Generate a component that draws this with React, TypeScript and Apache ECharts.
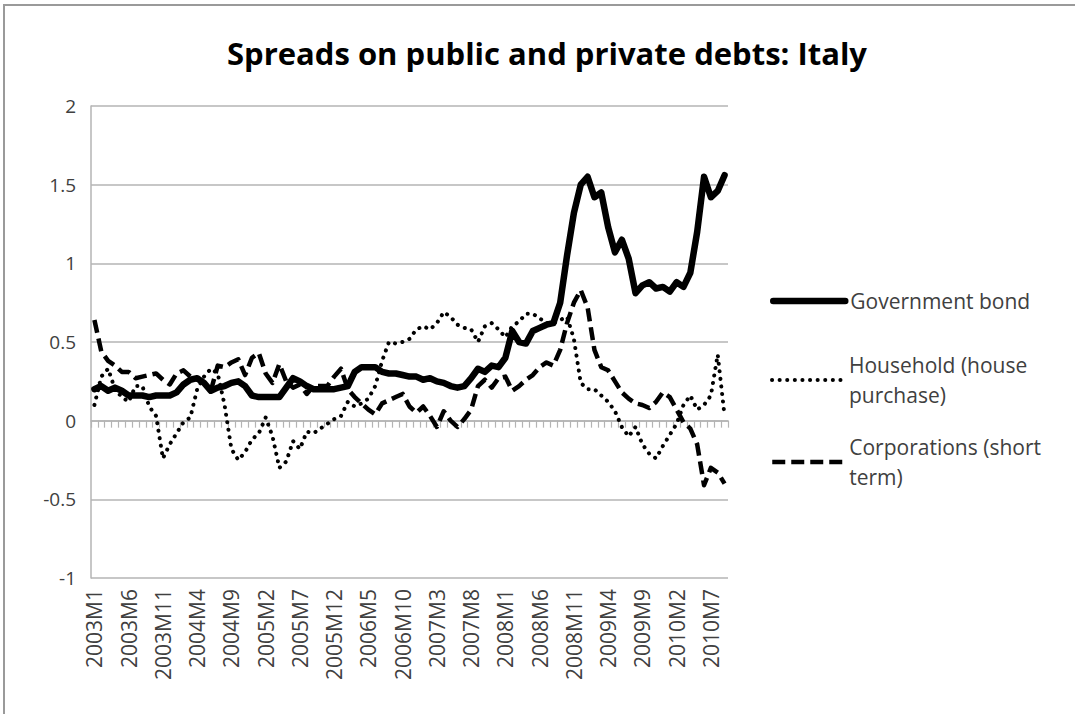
import React, { useEffect, useRef } from "react";
import * as echarts from "echarts";

const categories = [
  "2003M1","2003M2","2003M3","2003M4","2003M5","2003M6","2003M7","2003M8","2003M9","2003M10","2003M11","2003M12",
  "2004M1","2004M2","2004M3","2004M4","2004M5","2004M6","2004M7","2004M8","2004M9","2004M10","2004M11","2004M12",
  "2005M1","2005M2","2005M3","2005M4","2005M5","2005M6","2005M7","2005M8","2005M9","2005M10","2005M11","2005M12",
  "2006M1","2006M2","2006M3","2006M4","2006M5","2006M6","2006M7","2006M8","2006M9","2006M10","2006M11","2006M12",
  "2007M1","2007M2","2007M3","2007M4","2007M5","2007M6","2007M7","2007M8","2007M9","2007M10","2007M11","2007M12",
  "2008M1","2008M2","2008M3","2008M4","2008M5","2008M6","2008M7","2008M8","2008M9","2008M10","2008M11","2008M12",
  "2009M1","2009M2","2009M3","2009M4","2009M5","2009M6","2009M7","2009M8","2009M9","2009M10","2009M11","2009M12",
  "2010M1","2010M2","2010M3","2010M4","2010M5","2010M6","2010M7","2010M8","2010M9"
];

const government = [
  0.20,0.22,0.19,0.21,0.19,0.16,0.16,0.16,0.15,0.16,0.16,0.16,
  0.18,0.23,0.26,0.27,0.24,0.19,0.21,0.22,0.24,0.25,0.22,0.16,
  0.15,0.15,0.15,0.15,0.21,0.27,0.25,0.22,0.20,0.20,0.20,0.20,
  0.21,0.22,0.31,0.34,0.34,0.34,0.31,0.30,0.30,0.29,0.28,0.28,
  0.26,0.27,0.25,0.24,0.22,0.21,0.22,0.27,0.33,0.31,0.35,0.34,
  0.40,0.57,0.50,0.49,0.57,0.59,0.61,0.62,0.75,1.05,1.32,1.50,
  1.55,1.42,1.45,1.23,1.07,1.15,1.03,0.81,0.86,0.88,0.84,0.85,
  0.82,0.88,0.85,0.94,1.20,1.55,1.42,1.46,1.56
];

const household = [
  0.10,0.28,0.33,0.20,0.15,0.12,0.22,0.22,0.09,0.03,-0.24,-0.15,
  -0.08,-0.01,0.02,0.20,0.28,0.33,0.30,0.10,-0.18,-0.25,-0.20,-0.12,
  -0.08,0.02,-0.10,-0.30,-0.26,-0.13,-0.18,-0.07,-0.08,-0.05,-0.02,0.01,
  0.03,0.12,0.09,0.11,0.14,0.22,0.38,0.50,0.49,0.50,0.52,0.58,
  0.60,0.58,0.62,0.69,0.66,0.61,0.59,0.58,0.50,0.60,0.62,0.58,
  0.53,0.60,0.63,0.68,0.68,0.65,0.62,0.62,0.64,0.66,0.52,0.24,
  0.20,0.20,0.16,0.12,0.06,-0.04,-0.10,-0.04,-0.15,-0.21,-0.24,-0.16,
  -0.09,-0.02,0.10,0.16,0.07,0.10,0.16,0.42,0.03
];

const corporations = [
  0.64,0.44,0.38,0.35,0.31,0.31,0.27,0.28,0.29,0.30,0.26,0.23,
  0.30,0.32,0.28,0.26,0.24,0.19,0.35,0.34,0.37,0.39,0.29,0.40,
  0.43,0.30,0.24,0.36,0.25,0.21,0.23,0.17,0.22,0.22,0.22,0.28,
  0.33,0.20,0.15,0.11,0.07,0.04,0.11,0.13,0.15,0.17,0.09,0.05,
  0.09,0.03,-0.04,0.06,0.00,-0.04,0.01,0.07,0.22,0.26,0.21,0.27,
  0.28,0.19,0.22,0.26,0.29,0.34,0.37,0.35,0.45,0.62,0.75,0.83,
  0.72,0.45,0.34,0.32,0.25,0.18,0.14,0.11,0.10,0.08,0.12,0.18,
  0.15,0.07,-0.01,-0.05,-0.15,-0.41,-0.30,-0.33,-0.40
];

const seriesNames = ["Government bond", "Household (house purchase)", "Corporations (short term)"];
const legendLabels: Record<string, string> = {
  "Government bond": "Government bond",
  "Household (house purchase)": "Household (house\npurchase)",
  "Corporations (short term)": "Corporations (short\nterm)",
};

const FONT = "'Open Sans', 'Noto Sans', sans-serif";
const TEXT = "#404040";
const GRID = "#b4b4b4";

const govStyle = { color: "#000000", width: 6.5, join: "round", cap: "round" };
const houseStyle = { color: "#000000", width: 4, type: [0.1, 7.5], cap: "round", join: "round" };
const corpStyle = { color: "#000000", width: 4.5, type: [13, 6], join: "round", cap: "butt" };

export default function App() {
  const ref = useRef<HTMLDivElement>(null);
  useEffect(() => {
    if (!ref.current) return;
    const chart = echarts.init(ref.current, null, { renderer: "svg" });
    const legendText = {
      color: TEXT,
      fontFamily: FONT,
      fontSize: 21,
      lineHeight: 30,
    };
    const mkLegend = (name: string, top: number, twoLines: boolean, lineStyle: any) => ({
      data: [name],
      left: 770,
      top,
      orient: "vertical",
      padding: 0,
      itemWidth: 72,
      itemHeight: 14,
      selectedMode: false,
      lineStyle,
      formatter: (n: string) => legendLabels[n] || n,
      textStyle: twoLines ? { ...legendText, padding: [30, 0, 0, 0] } : legendText,
    });
    chart.setOption({
      animation: false,
      backgroundColor: "#ffffff",
      title: {
        text: "Spreads on public and private debts: Italy",
        left: 542,
        top: 32,
        textAlign: "center",
        textStyle: {
          fontFamily: FONT,
          fontWeight: "bold",
          fontSize: 31,
          color: "#000000",
        },
      },
      legend: [
        mkLegend(seriesNames[0], 286, false, govStyle),
        mkLegend(seriesNames[1], 335, true, houseStyle),
        mkLegend(seriesNames[2], 417, true, corpStyle),
      ],
      grid: { left: 91, right: 347, top: 106, bottom: 136, containLabel: false },
      xAxis: [
        {
          type: "category",
          data: categories,
          boundaryGap: true,
          position: "bottom",
          axisLine: { show: false, onZero: false },
          axisTick: { show: false },
          splitLine: { show: false },
          axisLabel: {
            interval: 4,
            rotate: 90,
            margin: 11,
            color: TEXT,
            fontFamily: FONT,
            fontSize: 21,
          },
        },
        {
          type: "category",
          data: categories,
          boundaryGap: true,
          position: "bottom",
          axisLine: { show: true, onZero: true, lineStyle: { color: GRID, width: 1.5 } },
          axisTick: { show: true, interval: 0, length: 7, lineStyle: { color: GRID, width: 1.2 } },
          axisLabel: { show: false },
          splitLine: { show: false },
        },
      ],
      yAxis: {
        type: "value",
        min: -1,
        max: 2,
        interval: 0.5,
        axisLine: { show: true, lineStyle: { color: GRID, width: 1.5 } },
        axisTick: { show: false },
        splitLine: { show: true, lineStyle: { color: GRID, width: 1.5 } },
        axisLabel: {
          margin: 15,
          color: TEXT,
          fontFamily: FONT,
          fontSize: 19,
          formatter: (v: number) => String(v),
        },
      },
      graphic: [
        {
          type: "polyline",
          shape: { points: [[4, 714], [4, 5], [1075, 5]] },
          style: { stroke: "#9a9a9a", lineWidth: 2, fill: "none" },
          silent: true,
        },
      ],
      series: [
        {
          name: seriesNames[0],
          type: "line",
          data: government,
          xAxisIndex: 0,
          symbol: "none",
          itemStyle: { color: "rgba(0,0,0,0)" },
          lineStyle: govStyle,
          z: 5,
        },
        {
          name: seriesNames[1],
          type: "line",
          data: household,
          xAxisIndex: 0,
          symbol: "none",
          itemStyle: { color: "rgba(0,0,0,0)" },
          lineStyle: houseStyle,
          z: 3,
        },
        {
          name: seriesNames[2],
          type: "line",
          data: corporations,
          xAxisIndex: 0,
          symbol: "none",
          itemStyle: { color: "rgba(0,0,0,0)" },
          lineStyle: corpStyle,
          z: 4,
        },
      ],
    });
    return () => chart.dispose();
  }, []);
  return (
    <div
      ref={ref}
      style={{ position: "fixed", left: 0, top: 0, width: 1075, height: 714, background: "#fff" }}
    />
  );
}
